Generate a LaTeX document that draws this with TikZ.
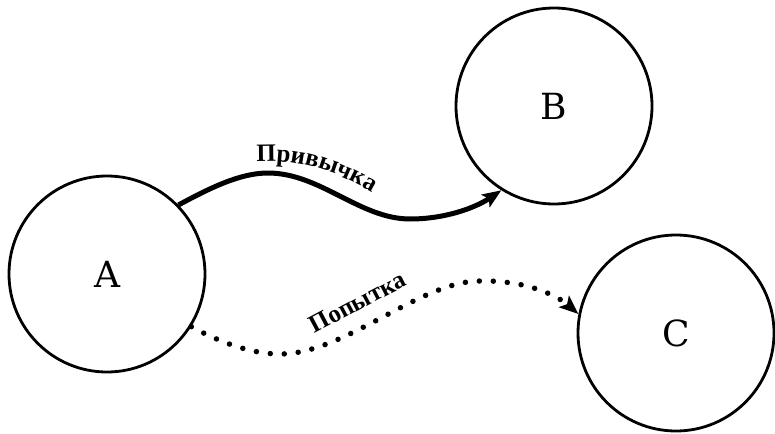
\documentclass[tikz,border=0pt]{standalone}
\usepackage{fontspec}
\setmainfont{DejaVu Serif}
\newfontfamily\labelfamily{Liberation Serif}
\usetikzlibrary{arrows.meta,decorations.text}
\newcommand\lblfont{\labelfamily\fontsize{25}{28}\selectfont\bfseries}
\tikzset{
  state/.style={circle, draw, line width=2.8pt, minimum size=196pt, inner sep=0pt,
    font=\fontsize{36}{40}\selectfont},
  habit/.style={line width=5pt, -{Stealth[length=19pt 0, width=15pt 0, inset=4pt 0]}},
  attempt/.style={line width=5.5pt, line cap=round, dash pattern=on 0pt off 14pt,
    -{Stealth[length=19pt 0, width=15pt 0, inset=4pt 0]}},
  curvetext/.style={decorate, decoration={text along path, text align=center, text={|\lblfont|#1}}}
}
\begin{document}
\begin{tikzpicture}[x=1pt,y=-1pt]
\useasboundingbox (0,0) rectangle (775,433);
\node[state] (A) at (107,274) {A};
\node[state] (B) at (554,106) {B};
\node[state] (C) at (676,333) {C};
% Habit connector
\draw[habit] (A.44) .. controls (210,188) and (240,173) .. (268,173)
  .. controls (320,173) and (360,219) .. (410,219)
  .. controls (445,219) and (475,208) .. (B.238);
% Attempt connector
\draw[attempt] (A.-32) .. controls (225,345) and (255,354) .. (280,354)
  .. controls (345,354) and (420,281) .. (480,281)
  .. controls (530,280) and (560,298) .. (C.169);
% Labels
\coordinate (h1) at (250,162);
\coordinate (h2) at (378,196);
\path[curvetext={Привычка}] (h1) .. controls (290,158) and (330,166) .. (h2);
\coordinate (p1) at (311,336);
\coordinate (p2) at (412,283);
\path[curvetext={Попытка}] (p1) .. controls (345,318) and (378,300) .. (p2);
\end{tikzpicture}
\end{document}
